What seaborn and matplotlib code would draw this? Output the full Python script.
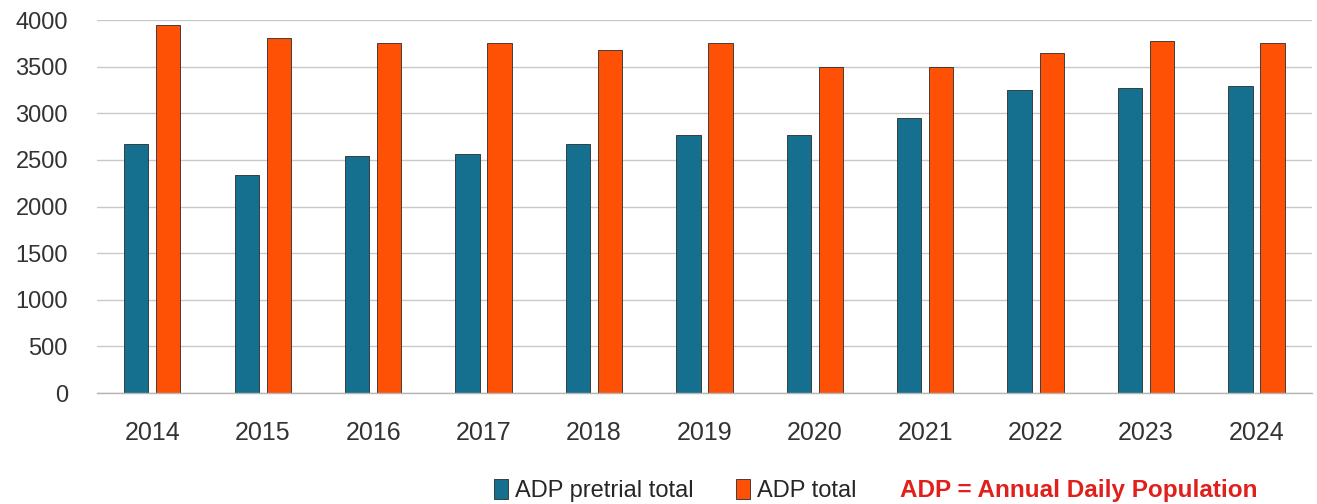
import pandas as pd
import matplotlib.pyplot as plt
import seaborn as sns


YEARS = ["2014", "2015", "2016", "2017", "2018", "2019", "2020", "2021", "2022", "2023", "2024"]
ADP_PRETRIAL = [2667, 2341, 2541, 2566, 2667, 2767, 2767, 2952, 3249, 3273, 3298]
ADP_TOTAL = [3943, 3810, 3757, 3757, 3678, 3757, 3499, 3502, 3653, 3781, 3757]
SERIES = ["ADP pretrial total", "ADP total"]
Y_TICKS = [0, 500, 1000, 1500, 2000, 2500, 3000, 3500, 4000]

COLORS = ["#14708e", "#ff5106"]
FONT = ["Liberation Sans", "DejaVu Sans"]


def build_frame() -> pd.DataFrame:
    rows = []
    for year, a, b in zip(YEARS, ADP_PRETRIAL, ADP_TOTAL):
        rows.append({"year": year, "series": SERIES[0], "value": a})
        rows.append({"year": year, "series": SERIES[1], "value": b})
    return pd.DataFrame(rows)


def main() -> None:
    sns.set_style("white")
    plt.rcParams["font.family"] = FONT

    df = build_frame()

    fig = plt.figure(figsize=(13.17, 5.04), dpi=100)
    ax = fig.add_axes([0.0737, 0.2202, 0.9223, 0.7398])

    sns.barplot(
        data=df,
        x="year",
        y="value",
        hue="series",
        hue_order=SERIES,
        palette=COLORS,
        saturation=1,
        width=0.58,
        gap=0.24,
        edgecolor="#2a2a2a",
        linewidth=0.6,
        ax=ax,
        legend=True,
    )

    ax.set_xlim(-0.5, len(YEARS) - 0.5)
    ax.set_ylim(0, 4000)
    ax.set_yticks(Y_TICKS)
    ax.set_xlabel("")
    ax.set_ylabel("")
    ax.yaxis.grid(True, color="#c9c9c9", linewidth=1.0)
    ax.set_axisbelow(True)
    for side in ["top", "right", "left"]:
        ax.spines[side].set_visible(False)
    ax.spines["bottom"].set_color("#b5b5b5")
    ax.spines["bottom"].set_linewidth(1.0)
    ax.tick_params(axis="y", length=0, pad=21, labelsize=17, labelcolor="#333333")
    ax.tick_params(axis="x", length=0, pad=20, labelsize=18, labelcolor="#333333")

    handles, labels = ax.get_legend_handles_labels()
    ax.legend_.remove()
    fig.legend(
        handles,
        labels,
        loc="center left",
        bbox_to_anchor=(0.366, 0.026),
        ncol=2,
        frameon=False,
        fontsize=17,
        handlelength=0.6,
        handleheight=0.9,
        handletextpad=0.3,
        columnspacing=1.8,
        borderpad=0,
    )
    fig.text(
        0.683,
        0.026,
        "ADP = Annual Daily Population",
        color="#e0201c",
        fontsize=17.5,
        fontweight="bold",
        va="center",
        ha="left",
    )

    fig.savefig("out.png", dpi=100)


if __name__ == "__main__":
    main()
